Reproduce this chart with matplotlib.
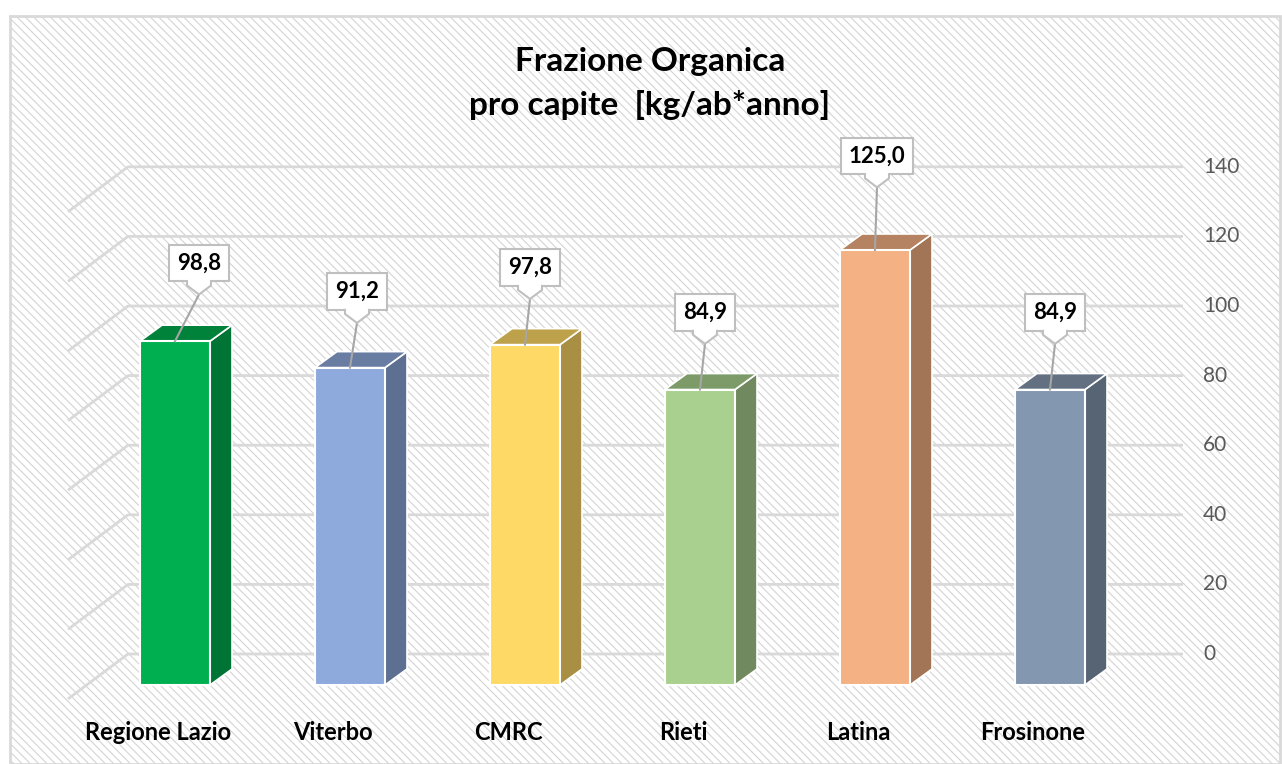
import matplotlib
matplotlib.use("Agg")
import matplotlib.pyplot as plt
from matplotlib.patches import Rectangle, Polygon

plt.rcParams['font.family'] = ['Lato', 'DejaVu Sans']

# data
categories = ['Regione Lazio', 'Viterbo', 'CMRC', 'Rieti', 'Latina', 'Frosinone']
values = [98.8, 91.2, 97.8, 84.9, 125.0, 84.9]
yticks = [0, 20, 40, 60, 80, 100, 120, 140]
colors = ['#00B050', '#8EA9DB', '#FFD966', '#A9D08E', '#F4B183', '#8497B0']

# layout (pixels of the picture -> data units)
PX = 175.0   # px per category
PY = 3.48    # px per value unit
def ux(p): return p / PX
def uy(p): return p / PY

# callout box offsets from bar top centre, in px
lab_off = [(24, 78), (7, 76), (5, 77), (5, 77), (2, 94), (5, 77)]

def shade(c, f):
    r, g, b = matplotlib.colors.to_rgb(c)
    return (r * f, g * f, b * f)

fig = plt.figure(figsize=(12.82, 7.64), dpi=100)
ax = fig.add_axes([0, 0, 1, 1])
ax.set_xlim(-1, (1282 - 175) / PX)
ax.set_ylim(-(764 - 685) / PY, 685 / PY)
ax.axis('off')

# hatched chart area + frame
plt.rcParams['hatch.linewidth'] = 0.8
bg = Rectangle((10 / 1282, 0), 1270 / 1282, 748 / 764, transform=ax.transAxes,
               facecolor='white', edgecolor='#D4D4D4', hatch='\\' * 4, lw=0, zorder=0)
ax.add_patch(bg)
frame = Rectangle((10 / 1282, 0), 1270 / 1282, 748 / 764, transform=ax.transAxes,
                  facecolor='none', edgecolor='#D9D9D9', lw=2, zorder=0.5)
ax.add_patch(frame)

# perspective gridlines (back wall)
wall_dy = uy(31)
x_l, x_b, x_r = ux(68 - 175), ux(128 - 175), ux(1183 - 175)
for g in yticks:
    ax.plot([x_l, x_b, x_r], [g + wall_dy - uy(45), g + wall_dy, g + wall_dy],
            color='#D9D9D9', lw=2, zorder=1, solid_capstyle='butt')
    ax.text(ux(1203 - 175), g + wall_dy, str(g), ha='left', va='center',
            fontsize=15, color='#595959')

# 3D bars
w = ux(70)
ddx, ddy = ux(22), uy(16)
for i, (v, c) in enumerate(zip(values, colors)):
    x0, x1 = i - w / 2, i + w / 2
    side = Polygon([(x1, 0), (x1 + ddx, ddy), (x1 + ddx, v + ddy), (x1, v)],
                   closed=True, facecolor=shade(c, 0.66), edgecolor='#FFFFFF', lw=1.2, zorder=2)
    top = Polygon([(x0, v), (x0 + ddx, v + ddy), (x1 + ddx, v + ddy), (x1, v)],
                  closed=True, facecolor=shade(c, 0.74), edgecolor='#FFFFFF', lw=1.2, zorder=2)
    front = Rectangle((x0, 0), w, v, facecolor=c, edgecolor='#FFFFFF', lw=1.5, zorder=2.5)
    for p in (side, top, front):
        ax.add_patch(p)

    # callout box with pointer
    ox, oy = lab_off[i]
    cx, cy = i + ux(ox), v + uy(oy)
    yb = cy - uy(18.3)
    tip = (cx, yb - uy(13))
    ax.plot([tip[0], i], [tip[1], v], color='#A6A6A6', lw=1.5, zorder=4)
    ax.text(cx, cy, f'{v:.1f}'.replace('.', ','), ha='center', va='center',
            fontsize=16, fontweight='bold', color='black', zorder=5,
            bbox=dict(boxstyle='square,pad=0.35', fc='white', ec='#BFBFBF', lw=1.5))
    fill = [(cx - ux(11.2), yb + uy(2.5)), (cx - ux(11.2), yb - uy(4)), tip,
            (cx + ux(11.2), yb - uy(4)), (cx + ux(11.2), yb + uy(2.5))]
    ax.add_patch(Polygon(fill, closed=True, facecolor='white', edgecolor='none', zorder=6))
    edge = [(cx - ux(12), yb), (cx - ux(12), yb - uy(4)), tip,
            (cx + ux(12), yb - uy(4)), (cx + ux(12), yb)]
    ax.plot([p[0] for p in edge], [p[1] for p in edge],
            color='#BFBFBF', lw=1.5, zorder=6.5)

    ax.text(i - ux(17), -uy(48), categories[i], ha='center', va='center',
            fontsize=17, fontweight='bold', color='black')

fig.text(650 / 1282, 1 - 62 / 764, 'Frazione Organica', ha='center', va='center',
         fontsize=24, fontweight='bold', color='black')
fig.text(650 / 1282, 1 - 105 / 764, 'pro capite  [kg/ab*anno]', ha='center', va='center',
         fontsize=24, fontweight='bold', color='black')

fig.savefig('out.png', dpi=100)
